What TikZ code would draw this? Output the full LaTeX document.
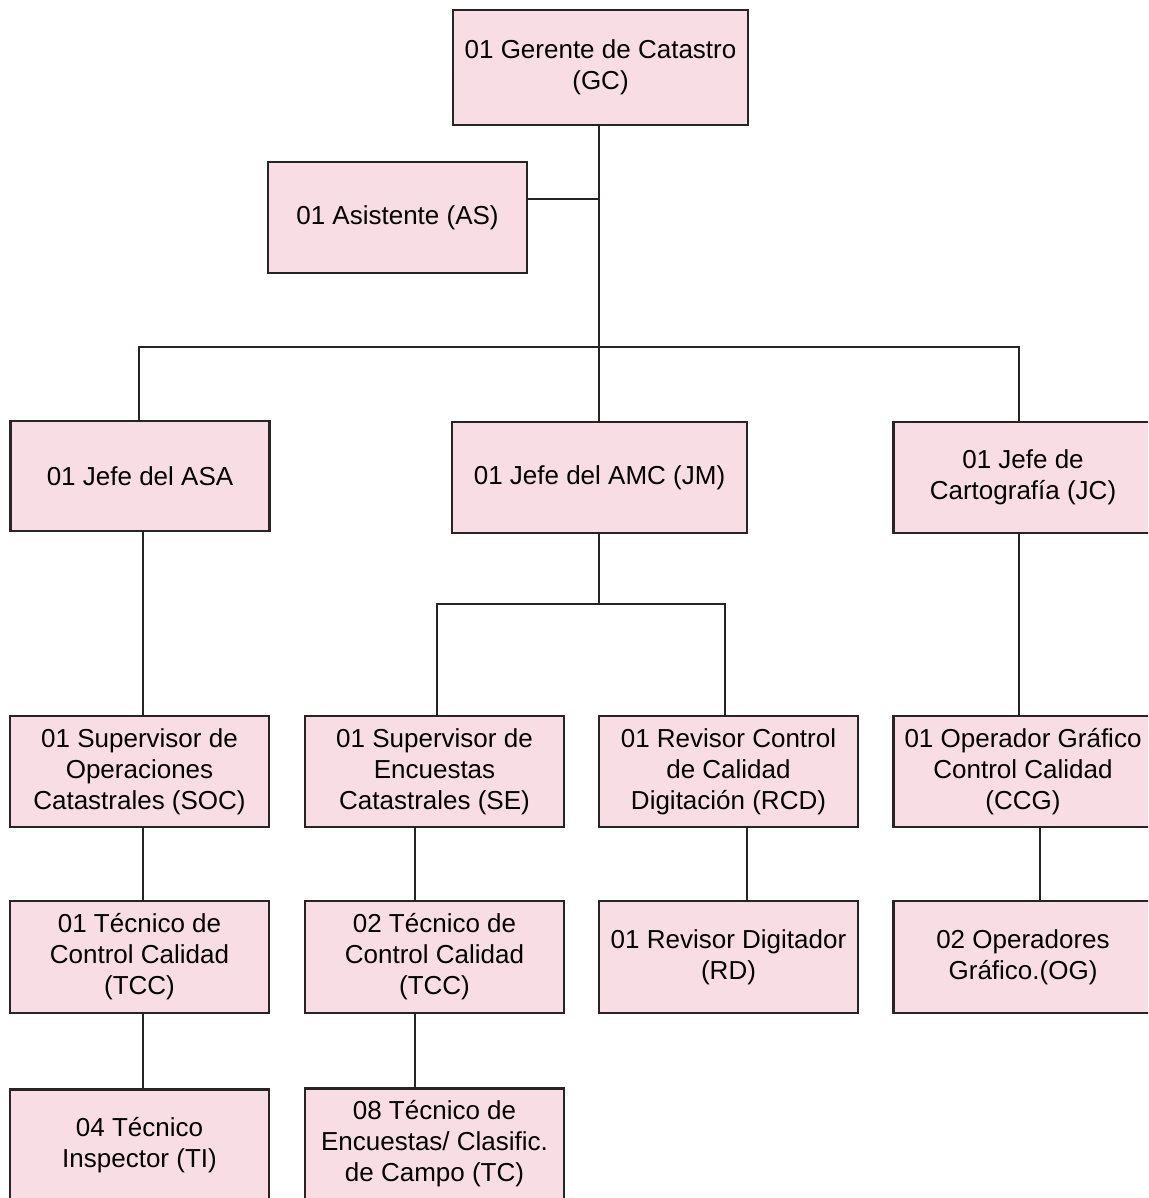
\documentclass[tikz,border=0pt]{standalone}
\usepackage{fontspec}
\setmainfont{Liberation Sans}
\definecolor{boxfill}{RGB}{249,221,229}
\definecolor{boxline}{RGB}{40,36,38}
\begin{document}
\begin{tikzpicture}[x=1pt,y=-1pt,
  role/.style={draw=boxline, fill=boxfill, line width=2.2pt, rectangle,
    align=center, inner sep=0pt, minimum width=259pt, minimum height=111pt,
    font=\fontsize{26}{31}\selectfont},
  wide/.style={minimum width=295pt},
  link/.style={draw=boxline, line width=2.2pt}]
\useasboundingbox (0,0) rectangle (1148,1198);
\clip (0,0) rectangle (1148,1198);

% top management
\node[role, wide, minimum height=115pt] (gc) at (600.5,67.5) {01 Gerente de Catastro\\(GC)};
\node[role] (as) at (397.5,217.5) {01 Asistente (AS)};

% area heads
\node[role, minimum height=110pt] (asa) at (140,476) {01 Jefe del ASA};
\node[role, wide] (amc) at (599.5,477.5) {01 Jefe del AMC (JM)};
\node[role] (jc) at (1023,477.5) {01 Jefe de\\Cartografía (JC)};

% supervisors
\node[role] (soc) at (139.5,771.5) {01 Supervisor de\\Operaciones\\Catastrales (SOC)};
\node[role] (se) at (434.5,771.5) {01 Supervisor de\\Encuestas\\Catastrales (SE)};
\node[role] (rcd) at (728.5,771.5) {01 Revisor Control\\de Calidad\\Digitación (RCD)};
\node[role] (ccg) at (1023,771.5) {01 Operador Gráfico\\Control Calidad\\(CCG)};

% technicians
\node[role, minimum height=112pt] (tcca) at (139.5,957) {01 Técnico de\\Control Calidad\\(TCC)};
\node[role, minimum height=112pt] (tccb) at (434.5,957) {02 Técnico de\\Control Calidad\\(TCC)};
\node[role, minimum height=112pt] (rd) at (728.5,957) {01 Revisor Digitador\\(RD)};
\node[role, minimum height=112pt] (og) at (1023,957) {02 Operadores\\Gráfico.(OG)};

% field staff
\node[role] (ti) at (139.5,1145) {04 Técnico\\Inspector (TI)};
\node[role] (tc) at (434.5,1144) {08 Técnico de\\Encuestas/ Clasific.\\de Campo (TC)};

% junction points
\coordinate (hub) at (599,347);
\coordinate (asj) at (599,199);
\coordinate (bl) at (139,347);
\coordinate (br) at (1019,347);
\coordinate (amchub) at (599,604);
\coordinate (sel) at (437,604);
\coordinate (ser) at (725,604);
\coordinate (xa) at (143,0);
\coordinate (xb) at (415,0);
\coordinate (xc) at (747,0);
\coordinate (xd) at (1019,0);
\coordinate (xe) at (1040,0);

% connectors
\draw[link] (gc.south -| hub) -- (hub);
\draw[link] (asj -| as.east) -- (asj);
\draw[link] (asa.north -| bl) -- (bl) -- (br) -- (jc.north -| br);
\draw[link] (hub) -- (amc.north -| hub);
\draw[link] (amc.south -| amchub) -- (amchub);
\draw[link] (se.north -| sel) -- (sel) -- (ser) -- (rcd.north -| ser);
\draw[link] (asa.south -| xa) -- (soc.north -| xa);
\draw[link] (soc.south -| xa) -- (tcca.north -| xa);
\draw[link] (tcca.south -| xa) -- (ti.north -| xa);
\draw[link] (se.south -| xb) -- (tccb.north -| xb);
\draw[link] (tccb.south -| xb) -- (tc.north -| xb);
\draw[link] (rcd.south -| xc) -- (rd.north -| xc);
\draw[link] (jc.south -| xd) -- (ccg.north -| xd);
\draw[link] (ccg.south -| xe) -- (og.north -| xe);
\end{tikzpicture}
\end{document}
